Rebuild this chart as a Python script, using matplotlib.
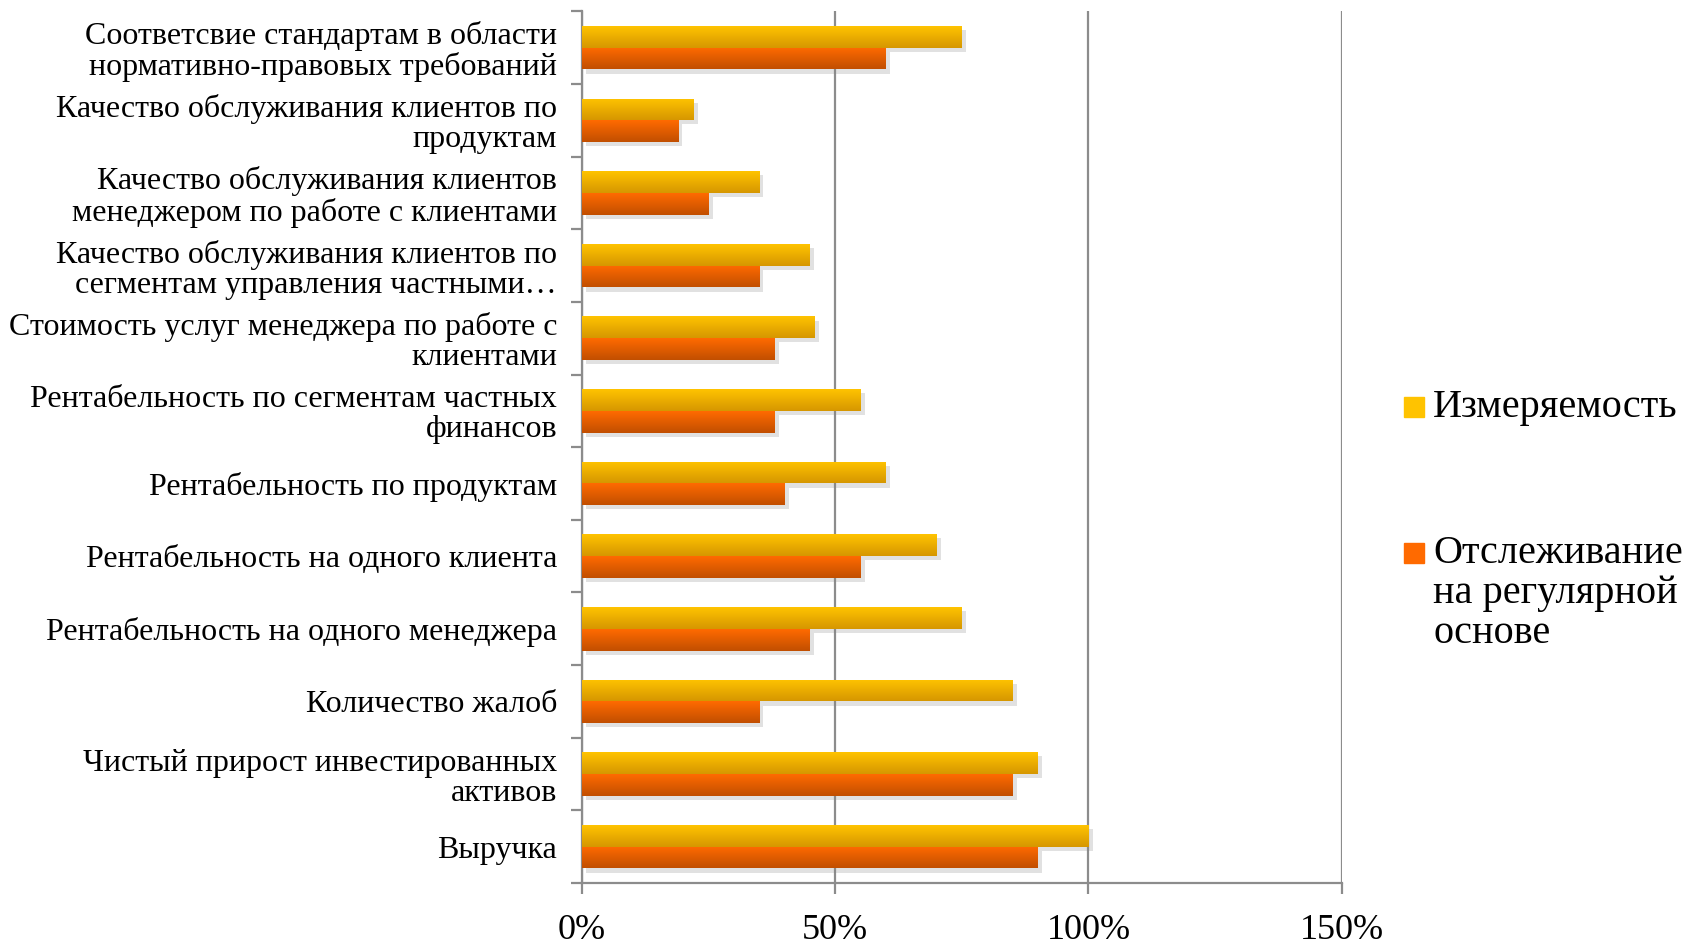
import numpy as np
import matplotlib
matplotlib.use("Agg")
from matplotlib import pyplot as plt
from matplotlib import patheffects as pe
from matplotlib.patches import Rectangle

plt.rcParams['font.family'] = ['Liberation Serif', 'DejaVu Serif']

categories = [
    'Соответсвие стандартам в области\nнормативно-правовых требований',
    'Качество обслуживания клиентов по\nпродуктам',
    'Качество обслуживания клиентов\nменеджером по работе с клиентами',
    'Качество обслуживания клиентов по\nсегментам управления частными…',
    'Стоимость услуг менеджера по работе с\nклиентами',
    'Рентабельность по сегментам частных\nфинансов',
    'Рентабельность по продуктам',
    'Рентабельность на одного клиента',
    'Рентабельность на одного менеджера',
    'Количество жалоб',
    'Чистый прирост инвестированных\nактивов',
    'Выручка',
]
measurable = [75, 22, 35, 45, 46, 55, 60, 70, 75, 85, 90, 100]
tracked = [60, 19, 25, 35, 38, 38, 40, 55, 45, 35, 85, 90]
x_ticks = [0, 50, 100, 150]
series_names = ['Измеряемость', 'Отслеживание\nна регулярной\nоснове']

yellow = ('#FFC300', '#D69700')
orange = ('#FF6A00', '#C24F00')


def gradient_bars(ax, ys, vals, h, cols):
    bars = ax.barh(ys, vals, height=h, color=cols[0], zorder=3,
                   path_effects=[pe.SimplePatchShadow(offset=(3, -3), shadow_rgbFace='#888888', alpha=0.25),
                                 pe.Normal()])
    c1 = np.array(matplotlib.colors.to_rgb(cols[0]))
    c2 = np.array(matplotlib.colors.to_rgb(cols[1]))
    t = np.linspace(0, 1, 32)[:, None]
    grad = (c1 * (1 - t) + c2 * t)[:, None, :]
    for bar, y, v in zip(bars, ys, vals):
        im = ax.imshow(grad, extent=(0, v, y + h / 2, y - h / 2), aspect='auto',
                       origin='upper', interpolation='bilinear', zorder=4)
        im.set_clip_path(bar)
    return bars


fig = plt.figure(figsize=(16.94, 9.48), dpi=100)
ax = fig.add_axes([0.3436, 0.0686, 0.792 - 0.3436, 0.988 - 0.0686])

idx = np.arange(len(categories))
h = 0.30
gradient_bars(ax, idx - h / 2, measurable, h, yellow)
gradient_bars(ax, idx + h / 2, tracked, h, orange)

ax.set_xlim(0, 150)
ax.set_ylim(len(categories) - 0.5, -0.5)

gray = '#8C8C8C'
for s in ['top', 'right']:
    ax.spines[s].set_visible(False)
for s in ['left', 'bottom']:
    ax.spines[s].set_color(gray)
    ax.spines[s].set_linewidth(1.6)

ax.set_xticks(x_ticks)
ax.set_xticklabels([f'{v}%' for v in x_ticks])
ax.tick_params(axis='x', length=8, width=1.6, color=gray, pad=14, labelsize=26)
ax.xaxis.grid(True, color=gray, linewidth=1.6, zorder=0)
ax.set_axisbelow(True)

ax.set_yticks(idx)
ax.set_yticklabels(categories, linespacing=1.05)
ax.set_yticks(np.arange(len(categories) + 1) - 0.5, minor=True)
ax.tick_params(axis='y', which='major', length=0, pad=18, labelsize=23)
ax.tick_params(axis='y', which='minor', length=8, width=1.6, color=gray)

# legend drawn by hand so the marker sits on the first line of a multi-line label
W, H = 1694, 948
legend_rows = [417, 563]
line_step = 40
for name, cols, base in zip(series_names, [yellow, orange], legend_rows):
    fig.add_artist(Rectangle((1404 / W, 1 - base / H), 20 / W, 20 / H,
                             transform=fig.transFigure, color=cols[0]))
    for k, line in enumerate(name.split('\n')):
        fig.text(1433 / W, 1 - (base + k * line_step) / H, line, fontsize=29,
                 va='baseline', ha='left')

fig.savefig('out.png', dpi=100)
